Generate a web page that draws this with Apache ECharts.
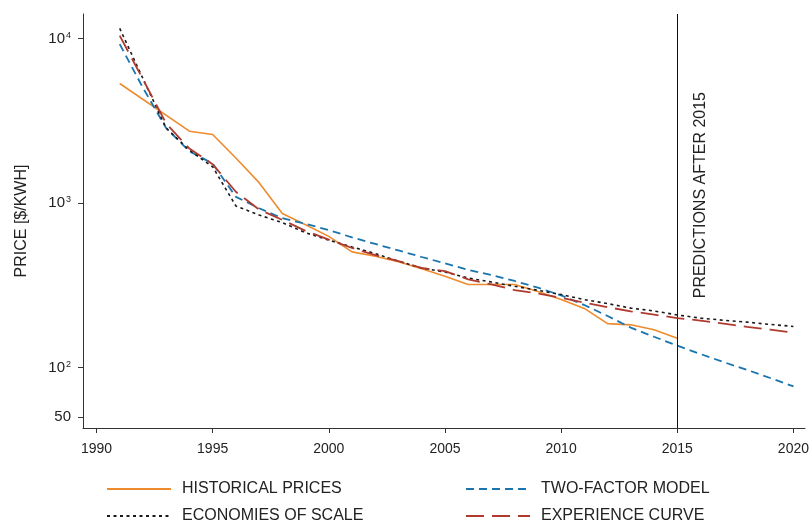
<!DOCTYPE html>
<html>
<head>
<meta charset="utf-8">
<script src="https://cdn.jsdelivr.net/npm/echarts@6/dist/echarts.min.js"></script>
<style>
html,body{margin:0;padding:0;background:#fff;}
#chart{width:812px;height:521px;}
</style>
</head>
<body>
<div id="chart"></div>
<script>
// ---- data ----
const histYears = [1991,1994,1995,1996,1997,1998,1999,2000,2001,2002,2003,2004,2005,2006,2007,2008,2009,2010,2011,2012,2013,2014,2015];
const histPrices = [5320,2730,2606,1877,1329,863,738,627,505,475,440,399,359,320,320,320,290,259,229,185,182,170,151];

const modelYears = [1991,1992,1993,1994,1995,1996,1997,1998,1999,2000,2001,2002,2003,2004,2005,2006,2007,2008,2009,2010,2011,2012,2013,2014,2015,2016,2017,2018,2019,2020];
const twoFactor = [9230,5010,2850,2060,1738,1090,929,809,747,685,618,564,515,470,430,393,365,336,306,275,240,206,175,154,136,121,108,97,86.5,77];
const economiesOfScale = [11500,5700,2850,2094,1660,960,845,760,660,595,541,493,443,403,381,350,331,312,295,278,259,245,230,221,209,200,194,189,183,178];
const experienceCurve = [10400,5640,3040,2140,1720,1170,912,790,677,600,533,482,443,403,386,344,320,296,282,266,248,233,220,210,200,193,185,177,170,163];

const xTicks = [1990,1995,2000,2005,2010,2015,2020];
const yTicks = [50,100,1000,10000];
const predictionYear = 2015;
const predictionLabel = 'PREDICTIONS AFTER 2015';
const seriesNames = ['HISTORICAL PRICES','TWO-FACTOR MODEL','ECONOMIES OF SCALE','EXPERIENCE CURVE'];
const yAxisTitle = 'PRICE [$/KWH]';

// ---- chart ----
const FONT = "'Liberation Sans', Arial, Helvetica, sans-serif";
const TXT = '#222';
const pairs = (xs, ys) => xs.map((x, i) => [x, ys[i]]);

const legendBase = {
  orient: 'vertical', top: 481, height: 60, padding: 0,
  itemWidth: 64, itemHeight: 16, itemGap: 11,
  itemStyle: {opacity: 0, borderWidth: 0},
  textStyle: {color: TXT, fontSize: 16, fontFamily: FONT, padding: [0, 0, 0, 6]}
};

const chart = echarts.init(document.getElementById('chart'), null, {renderer:'canvas'});
const option = {
  animation: false,
  backgroundColor: '#fff',
  textStyle: {fontFamily: FONT},
  grid: {left: 83, right: 5, top: 14, bottom: 93, containLabel: false},
  xAxis: {
    type: 'value', min: 1989.42, max: 2020.5,
    axisLine: {show: true, lineStyle: {color: '#333', width: 1}},
    axisTick: {show: true, length: 5, lineStyle: {color: '#333'}, customValues: xTicks},
    axisLabel: {color: TXT, fontSize: 14, fontFamily: FONT, margin: 14, customValues: xTicks, formatter: v => String(v)},
    splitLine: {show: false}
  },
  yAxis: {
    type: 'log', logBase: 10, min: 43, max: 14060,
    name: yAxisTitle, nameLocation: 'middle', nameGap: 53,
    nameTextStyle: {color: TXT, fontSize: 16, fontFamily: FONT},
    axisLine: {show: true, lineStyle: {color: '#333', width: 1}},
    axisTick: {show: true, length: 5, lineStyle: {color: '#333'}, customValues: yTicks},
    axisLabel: {
      color: TXT, fontSize: 15, fontFamily: FONT, margin: 12, customValues: yTicks,
      formatter: function (v) {
        const e = Math.round(Math.log10(v));
        if (Math.abs(v - Math.pow(10, e)) > 1e-6 * v) return String(Math.round(v));
        return '{b|10}{s|' + e + '}';
      },
      rich: {
        b: {fontSize: 15, color: TXT, fontFamily: FONT},
        s: {fontSize: 9, color: TXT, fontFamily: FONT, verticalAlign: 'top', padding: [0, 0, 0, 1]}
      }
    },
    splitLine: {show: false}
  },
  legend: [
    Object.assign({}, legendBase, {data: [seriesNames[0], seriesNames[2]], left: 106}),
    Object.assign({}, legendBase, {data: [seriesNames[1], seriesNames[3]], left: 465})
  ],
  series: [
    {
      name: seriesNames[0], type: 'line', data: pairs(histYears, histPrices),
      symbol: 'none', showSymbol: false,
      lineStyle: {color: '#EE8B2E', width: 1.6, type: 'solid'}, itemStyle: {color: '#EE8B2E'}, z: 3
    },
    {
      name: seriesNames[1], type: 'line', data: pairs(modelYears, twoFactor),
      symbol: 'none', showSymbol: false,
      lineStyle: {color: '#1A74AE', width: 1.8, type: [8, 5]}, itemStyle: {color: '#1A74AE'}, z: 4,
      markLine: {
        silent: true, symbol: ['none', 'none'], animation: false,
        lineStyle: {color: '#111', width: 1, type: 'solid'},
        label: {show: true, position: 'insideEndBottom', formatter: predictionLabel, distance: [78, 15],
          color: TXT, fontSize: 16, fontFamily: FONT},
        data: [{xAxis: predictionYear}]
      }
    },
    {
      name: seriesNames[2], type: 'line', data: pairs(modelYears, economiesOfScale),
      symbol: 'none', showSymbol: false,
      lineStyle: {color: '#1a1a1a', width: 1.6, type: [3, 3.5]}, itemStyle: {color: '#1a1a1a'}, z: 5
    },
    {
      name: seriesNames[3], type: 'line', data: pairs(modelYears, experienceCurve),
      symbol: 'none', showSymbol: false,
      lineStyle: {color: '#B03A2E', width: 1.8, type: [18, 8]}, itemStyle: {color: '#B03A2E'}, z: 6
    }
  ]
};
chart.setOption(option);
</script>
</body>
</html>
